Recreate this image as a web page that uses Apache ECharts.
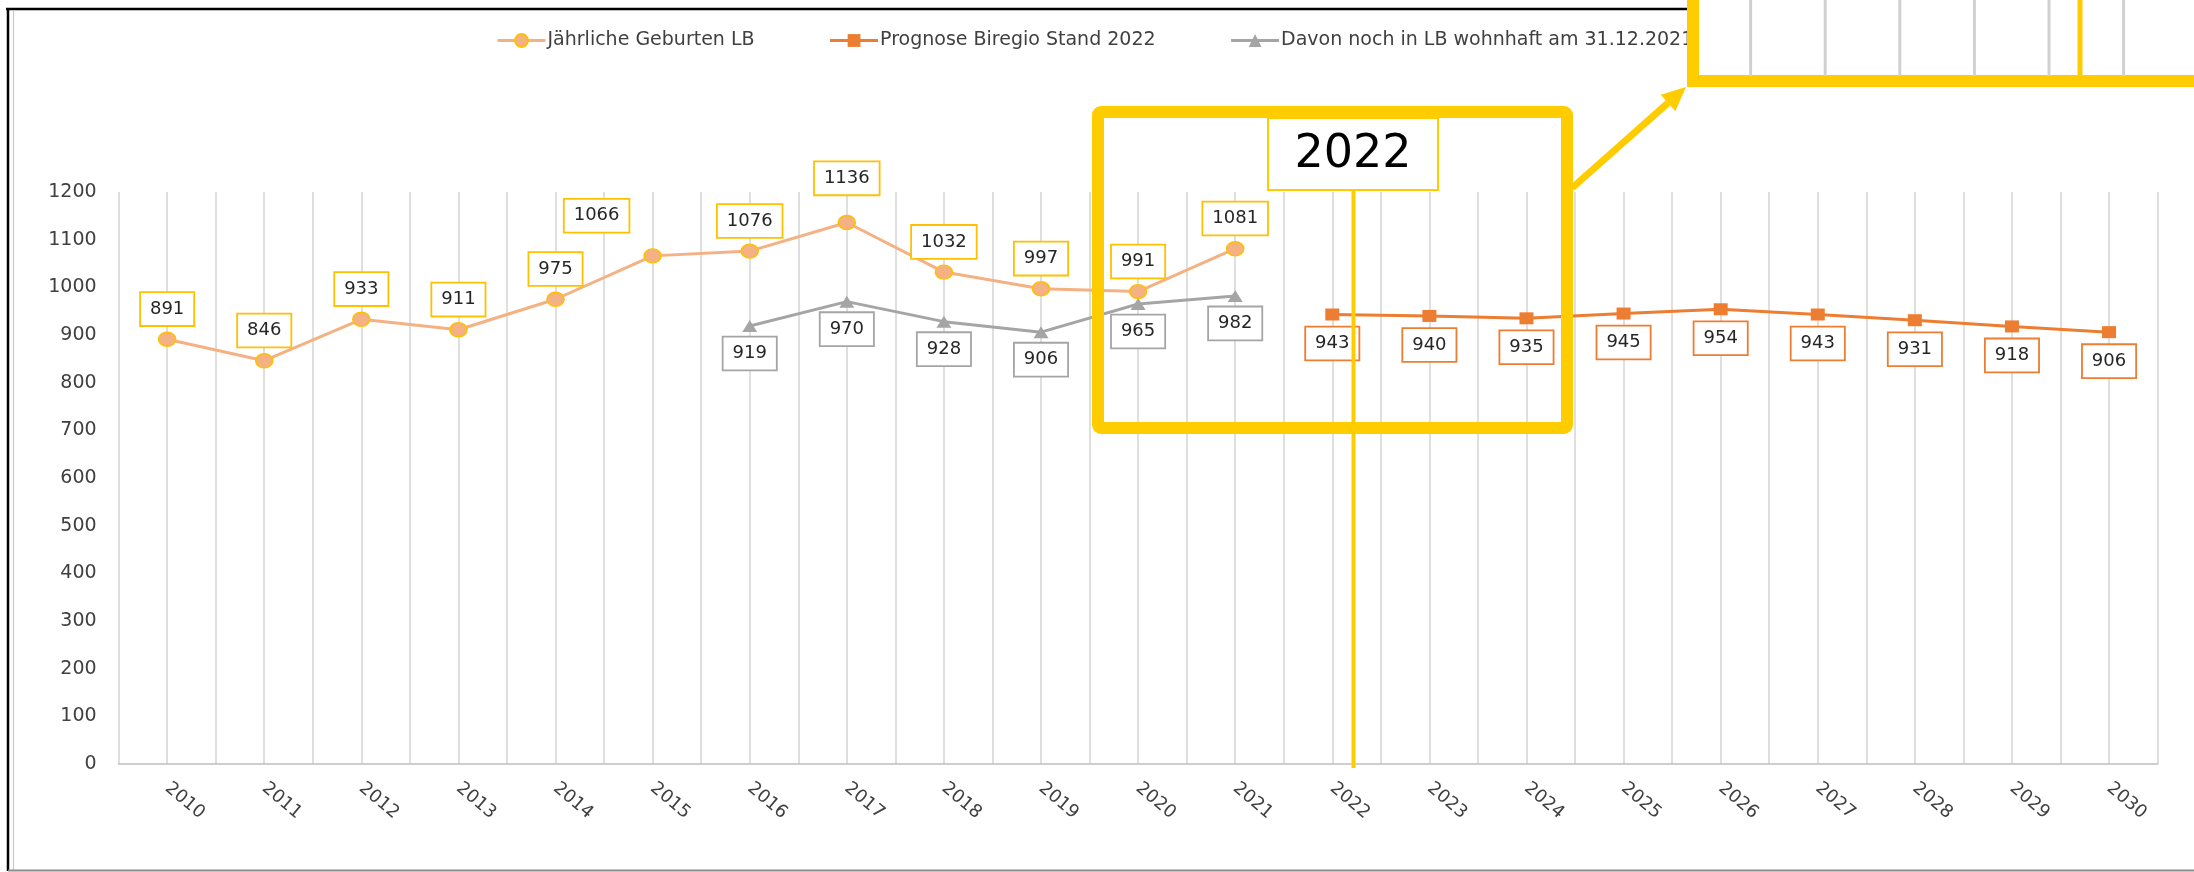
<!DOCTYPE html>
<html>
<head>
<meta charset="utf-8">
<script src="https://cdn.jsdelivr.net/npm/echarts@6/dist/echarts.min.js"></script>
<style>
  html, body { margin: 0; padding: 0; background: #fff; }
  #chart { width: 2194px; height: 872px; }
</style>
</head>
<body>
<div id="chart"></div>
<script>
// --- Daten ---
const years = ['2010', '2011', '2012', '2013', '2014', '2015', '2016', '2017', '2018', '2019', '2020',
               '2021', '2022', '2023', '2024', '2025', '2026', '2027', '2028', '2029', '2030'];
const births = [891, 846, 933, 911, 975, 1066, 1076, 1136, 1032, 997, 991, 1081];  // ab 2010
const forecast = [943, 940, 935, 945, 954, 943, 931, 918, 906];                     // ab 2022
const residents = [919, 970, 928, 906, 965, 982];                                   // ab 2016

const FONT = 'DejaVu Sans';
const YELLOW = '#FFCC00';

// Werte auf die Jahresachse legen, Rest bleibt leer
function place(values, firstYear) {
    let start = years.indexOf(firstYear);
    return years.map((y, i) => (i >= start && i < start + values.length) ? values[i - start] : null);
}

// im Original von Hand verschobene Labels
const birthLabelShift = { '2015': [-56, -10], '2017': [0, -14] };

function boxLabel(pos, dist, border) {
    return {
        show: true, position: pos, distance: dist,
        fontFamily: FONT, fontSize: 18, color: '#262626', lineHeight: 20,
        backgroundColor: '#fff', borderColor: border, borderWidth: 1.8,
        padding: [6, 9]
    };
}

// --- Anmerkungen (Rahmen, Pfeil, Lupe) ---
function arrow(from, tip, headLen, headHalf, width) {
    let dx = tip[0] - from[0], dy = tip[1] - from[1];
    let len = Math.sqrt(dx * dx + dy * dy);
    let ux = dx / len, uy = dy / len;
    let bx = tip[0] - ux * headLen, by = tip[1] - uy * headLen;
    return [
        { type: 'line', z: 110, shape: { x1: from[0], y1: from[1], x2: bx, y2: by },
          style: { stroke: YELLOW, lineWidth: width } },
        { type: 'polygon', z: 110,
          shape: { points: [tip, [bx - uy * headHalf, by + ux * headHalf], [bx + uy * headHalf, by - ux * headHalf]] },
          style: { fill: YELLOW } }
    ];
}

let insetLines = [];
for (let k = 0; k < 6; k++) {
    let x = 1750.6 + k * 74.6;
    insetLines.push({ type: 'line', z: 121, shape: { x1: x, y1: 0, x2: x, y2: 76 },
                      style: { stroke: '#D0D0D0', lineWidth: 3 } });
}

const graphics = [
    // Rahmen des Diagrammbereichs
    { type: 'line', z: 90, shape: { x1: 6, y1: 9, x2: 1690, y2: 9 }, style: { stroke: '#000', lineWidth: 2.5 } },
    { type: 'line', z: 90, shape: { x1: 8, y1: 8, x2: 8, y2: 871 }, style: { stroke: '#000', lineWidth: 2.5 } },
    { type: 'line', z: 90, shape: { x1: 13.5, y1: 10, x2: 13.5, y2: 870 }, style: { stroke: '#C8C8C8', lineWidth: 1.2 } },
    { type: 'line', z: 90, shape: { x1: 8, y1: 870.5, x2: 2194, y2: 870.5 }, style: { stroke: '#8C8C8C', lineWidth: 2 } },

    // gelber Rahmen um 2020-2024
    { type: 'rect', z: 100, shape: { x: 1098, y: 112, width: 469, height: 316, r: 3 },
      style: { fill: 'transparent', stroke: YELLOW, lineWidth: 12 } },
    { type: 'line', z: 101, shape: { x1: 1353.5, y1: 190, x2: 1353.5, y2: 768 },
      style: { stroke: YELLOW, lineWidth: 4 } },
    { type: 'rect', z: 102, shape: { x: 1268, y: 118, width: 170, height: 72 },
      style: { fill: '#fff', stroke: YELLOW, lineWidth: 2 } },
    { type: 'text', z: 103, x: 1353, y: 155,
      style: { text: '2022', fill: '#000', font: '46px "DejaVu Sans"', align: 'center', verticalAlign: 'middle' } },

    ...arrow([1572, 188], [1686, 87], 24, 11, 7),

    // Ausschnitt oben rechts
    { type: 'rect', z: 120, shape: { x: 1693, y: -20, width: 620, height: 101 },
      style: { fill: '#fff', stroke: YELLOW, lineWidth: 12 } },
    ...insetLines,
    { type: 'line', z: 122, shape: { x1: 2080, y1: 0, x2: 2080, y2: 76 }, style: { stroke: YELLOW, lineWidth: 5 } }
];

// --- Diagramm ---
var myChart = echarts.init(document.getElementById('chart'));

var option = {
    backgroundColor: '#fff',
    animation: false,
    textStyle: { fontFamily: FONT },
    legend: {
        left: 491, top: 26,
        itemWidth: 48, itemHeight: 16, itemGap: 74,
        lineStyle: { width: 3 },
        textStyle: { fontFamily: FONT, fontSize: 19, color: '#404040', padding: [0, 0, 0, -3] },
        data: ['Jährliche Geburten LB', 'Prognose Biregio Stand 2022', 'Davon noch in LB wohnhaft am 31.12.2021']
    },
    grid: { left: 118.6, right: 36.4, top: 192, bottom: 108 },
    xAxis: [
        {
            type: 'category', data: years, boundaryGap: true,
            axisLine: { lineStyle: { color: '#BFBFBF', width: 1.5 } },
            axisTick: { show: false },
            splitLine: { show: false },
            axisLabel: { interval: 0, rotate: -40, margin: 22, fontFamily: FONT, fontSize: 18, color: '#404040' }
        },
        {
            // nur fuer die senkrechten Gitterlinien (Kategoriegrenzen + Mitte)
            type: 'value', position: 'top', min: 0, max: 42, interval: 1,
            axisLine: { show: false }, axisTick: { show: false }, axisLabel: { show: false },
            splitLine: { show: true, lineStyle: { color: '#D4D4D4', width: 1.5 } }
        }
    ],
    yAxis: {
        type: 'value', min: 0, max: 1200, interval: 100,
        axisLine: { show: false }, axisTick: { show: false }, splitLine: { show: false },
        axisLabel: { margin: 22, fontFamily: FONT, fontSize: 19, color: '#404040', formatter: v => String(v) }
    },
    series: [
        {
            name: 'Jährliche Geburten LB', type: 'line', z: 3,
            data: place(births, '2010').map((v, i) => {
                let s = birthLabelShift[years[i]];
                return s ? { value: v, label: { offset: s } } : v;
            }),
            symbol: 'circle', symbolSize: [17, 14],
            itemStyle: { color: '#F4B183', borderColor: '#FFC000', borderWidth: 1.5 },
            lineStyle: { color: '#F4B183', width: 3 },
            label: boxLabel('top', 6.5, '#FFC000')
        },
        {
            name: 'Prognose Biregio Stand 2022', type: 'line', z: 3,
            data: place(forecast, '2022'),
            symbol: 'rect', symbolSize: [14, 12],
            itemStyle: { color: '#ED7D31' },
            lineStyle: { color: '#ED7D31', width: 3 },
            label: boxLabel('bottom', 7, '#ED7D31')
        },
        {
            name: 'Davon noch in LB wohnhaft am 31.12.2021', type: 'line', z: 2,
            data: place(residents, '2016'),
            symbol: 'triangle', symbolSize: [15, 12],
            itemStyle: { color: '#A5A5A5' },
            lineStyle: { color: '#A5A5A5', width: 3 },
            label: boxLabel('bottom', 5.5, '#A5A5A5')
        }
    ],
    graphic: graphics
};

myChart.setOption(option, true);
</script>
</body>
</html>
